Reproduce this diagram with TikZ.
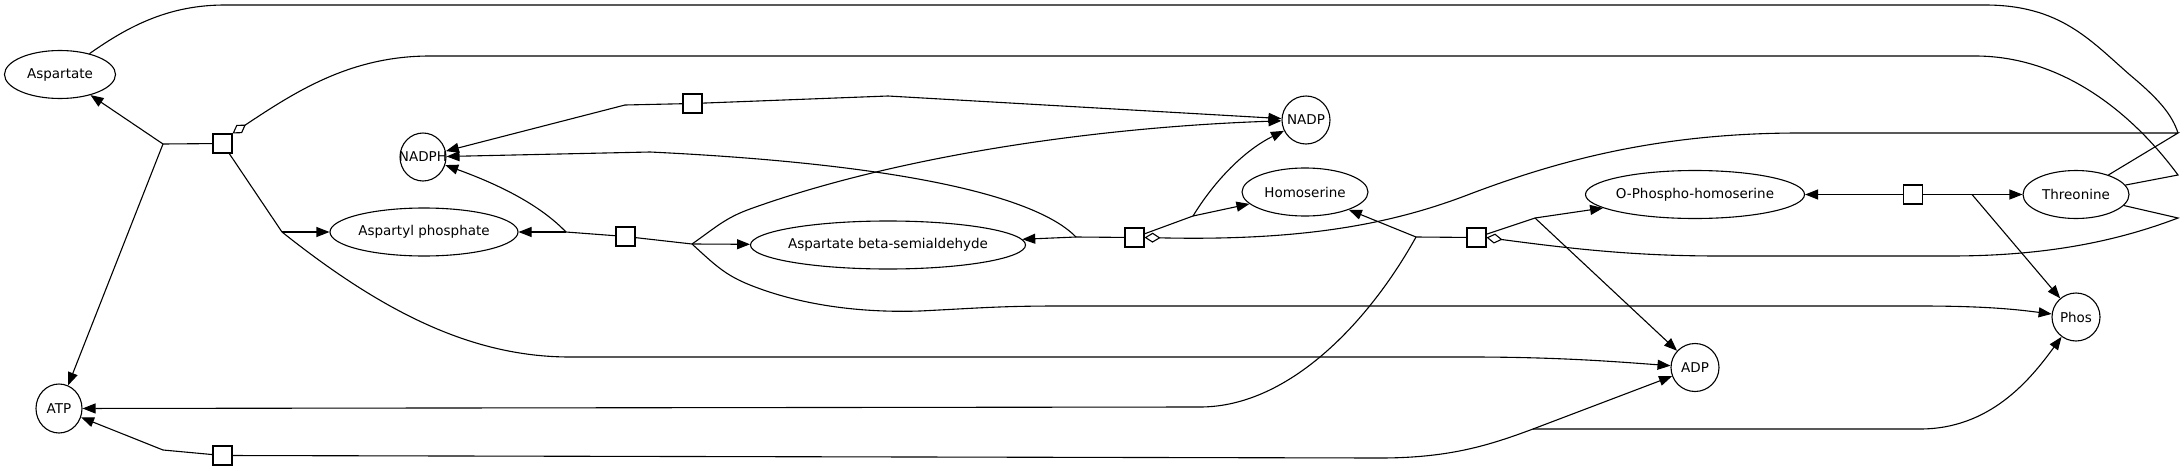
\documentclass[tikz,border=0pt]{standalone}
\usepackage{fontspec}
\setmainfont{DejaVu Sans}
\usepackage{tikz}
\usetikzlibrary{shapes.geometric,arrows.meta}

\begin{document}
\begin{tikzpicture}[
  x=1pt, y=-1pt,
  font=\fontsize{13.5}{16}\selectfont,
  line width=1.1pt,
  species/.style={draw, ellipse, inner sep=0pt, minimum height=48pt,
    execute at begin node={\hbox to 0pt\bgroup\hss}, execute at end node={\hss\egroup}},
  rxn/.style={draw, rectangle, inner sep=0pt, minimum size=19pt},
  arr/.style={-{Triangle[length=13pt, width=10pt]}},
  inh/.style={{Diamond[open, length=16pt, width=10pt]}-},
]
\useasboundingbox (0,0) rectangle (2184,471);

\node[species, minimum width=111pt] (asp) at (60,74.5) {Aspartate};
\node[species, minimum width=46pt] (nadph) at (423,157) {NADPH};
\node[species, minimum width=188pt] (aspp) at (424,232) {Aspartyl phosphate};
\node[species, minimum width=46pt, minimum height=49pt] (atp) at (59,408.5) {ATP};
\node[species, minimum width=48pt] (nadp) at (1306,120) {NADP};
\node[species, minimum width=126pt] (hom) at (1305,192) {Homoserine};
\node[species, minimum width=275pt] (asa) at (888,245) {Aspartate beta-semialdehyde};
\node[species, minimum width=219pt] (ophs) at (1695,194.5) {O-Phospho-homoserine};
\node[species, minimum width=106pt] (thr) at (2076,194.5) {Threonine};
\node[species, minimum width=48pt] (phos) at (2076,317) {Phos};
\node[species, minimum width=48pt] (adp) at (1695,367.5) {ADP};

\node[rxn] (r1) at (222.5,143.5) {};
\node[rxn] (r2) at (625.5,236.5) {};
\node[rxn] (r3) at (692.5,103.5) {};
\node[rxn] (r4) at (1134.5,237.5) {};
\node[rxn] (r5) at (1913,194.5) {};
\node[rxn] (r6) at (1476.5,237.5) {};
\node[rxn] (r7) at (222.5,455.5) {};

\coordinate (b1) at (163,144);
\coordinate (b1r) at (282,232);
\coordinate (b2) at (566,232);
\coordinate (b2r) at (692,244);
\coordinate (b3) at (625,105);
\coordinate (b3r) at (888,96);
\coordinate (b4) at (1076,237);
\coordinate (b4r) at (1193,216);
\coordinate (b5) at (1972,194.5);
\coordinate (b6) at (1416,237);
\coordinate (b6r) at (1535,218);
\coordinate (b7) at (163,450);
\coordinate (b7r) at (1533,429);
\coordinate (tc1) at (2178,133);
\coordinate (tc2) at (2178,175);
\coordinate (tc3) at (2178,218);

% aspartate kinase
\draw (r1) -- (b1);
\draw[arr] (b1) -- (asp);
\draw[arr] (b1) -- (atp);
\draw (r1) -- (b1r);
\draw[arr] (b1r) -- (aspp);
\draw[arr] (b1r) .. controls (380,310) and (470,357) .. (570,357) -- (1470,357) .. controls (1560,357) and (1620,362) .. (adp);
\draw[inh] (r1.north east) .. controls (295,92) and (350,56) .. (430,56) -- (1975,56) .. controls (2060,56) and (2130,110) .. (tc2) -- (thr);
\draw (asp) .. controls (130,25) and (170,5) .. (225,5) -- (1985,5) .. controls (2060,5) and (2090,40) .. (2130,75) .. controls (2160,100) and (2172,115) .. (tc1);

\draw (r2) -- (b2);
\draw[arr] (b2) -- (aspp);
\draw[arr] (b2) .. controls (540,205) and (500,185) .. (nadph);
\draw (r2) -- (b2r);
\draw[arr] (b2r) -- (asa);
\draw[arr] (b2r) .. controls (715,228) and (725,218) .. (750,209) .. controls (900,155) and (1100,127) .. (nadp);
\draw[arr] (b2r) .. controls (715,265) and (725,275) .. (750,285) .. controls (800,305) and (860,313) .. (920,311) .. controls (980,308) and (1000,306) .. (1060,306) -- (1920,306) .. controls (1990,306) and (2020,310) .. (phos);

\draw (r3) -- (b3);
\draw[arr] (b3) -- (nadph);
\draw (r3) -- (b3r);
\draw[arr] (b3r) -- (nadp);

% homoserine dehydrogenase
\draw (r4) -- (b4);
\draw[arr] (b4) -- (asa);
\draw[arr] (b4) .. controls (1040,200) and (920,165) .. (650,152) -- (nadph);
\draw (r4) -- (b4r);
\draw[arr] (b4r) -- (hom);
\draw[arr] (b4r) .. controls (1215,180) and (1245,150) .. (nadp);
\draw[inh] (r4.east) .. controls (1300,241) and (1390,225) .. (1470,194) .. controls (1560,160) and (1660,133) .. (1800,133) -- (tc1) -- (thr);

\draw[arr] (r5) -- (ophs);
\draw (r5) -- (b5);
\draw[arr] (b5) -- (thr);
\draw[arr] (b5) -- (phos);

% homoserine kinase
\draw (b6) -- (r6);
\draw[arr] (b6) -- (hom);
\draw[arr] (b6) .. controls (1370,320) and (1290,407) .. (1200,407) -- (atp);
\draw (r6) -- (b6r);
\draw[arr] (b6r) -- (ophs);
\draw[arr] (b6r) -- (adp);
\draw[inh] (r6.east) .. controls (1580,250) and (1640,256) .. (1720,256) -- (1950,256) .. controls (2050,256) and (2120,240) .. (tc3) -- (thr);

\draw (r7) -- (b7);
\draw[arr] (b7) -- (atp);
\draw (r7) -- (1380,458) .. controls (1450,458) and (1490,445) .. (b7r);
\draw[arr] (b7r) -- (adp);
\draw[arr] (b7r) -- (1920,429) .. controls (1990,429) and (2030,380) .. (phos);
\end{tikzpicture}
\end{document}
